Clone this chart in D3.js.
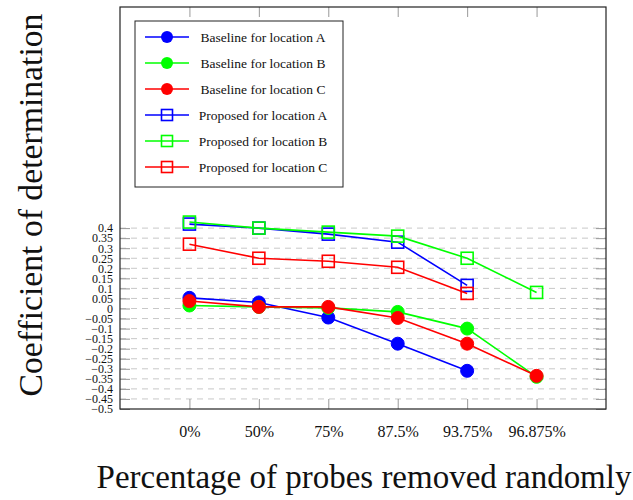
<!DOCTYPE html>
<html>
<head>
<meta charset="utf-8">
<script src="https://cdn.jsdelivr.net/npm/d3@7"></script>
<style>
  body { margin: 0; background: #fff; }
  svg { font-family: "Liberation Serif", "DejaVu Serif", serif; }
</style>
</head>
<body>
<div id="chart"></div>
<script>
// categories along x
var percents = ['0%', '50%', '75%', '87.5%', '93.75%', '96.875%']

// series values (null = no point)
var baselineA = [0.053, 0.03, -0.045, -0.175, -0.31, null]
var baselineB = [0.015, 0.008, 0.003, -0.017, -0.10, -0.34]
var baselineC = [0.037, 0.008, 0.008, -0.047, -0.175, -0.335]
var proposedA = [0.42, 0.40, 0.37, 0.33, 0.115, null]
var proposedB = [0.43, 0.40, 0.38, 0.36, 0.25, 0.08]
var proposedC = [0.32, 0.25, 0.235, 0.205, 0.075, null]

var yTicks = [0.4, 0.35, 0.3, 0.25, 0.2, 0.15, 0.1, 0.05, 0, -0.05, -0.1, -0.15, -0.2, -0.25, -0.3, -0.35, -0.4, -0.45, -0.5]

var seriesNames = ['Baseline for location A', 'Baseline for location B', 'Baseline for location C',
                   'Proposed for location A', 'Proposed for location B', 'Proposed for location C']

var series = [
  {name: seriesNames[0], values: baselineA, color: '#0000ff', marker: 'circle'},
  {name: seriesNames[1], values: baselineB, color: '#00ff00', marker: 'circle'},
  {name: seriesNames[2], values: baselineC, color: '#ff0000', marker: 'circle'},
  {name: seriesNames[3], values: proposedA, color: '#0000ff', marker: 'square'},
  {name: seriesNames[4], values: proposedB, color: '#00ff00', marker: 'square'},
  {name: seriesNames[5], values: proposedC, color: '#ff0000', marker: 'square'}
]

var width = 633, height = 500
var margin = {top: 7, right: 27, bottom: 91, left: 120}
var plotW = width - margin.left - margin.right
var plotH = height - margin.top - margin.bottom

var svg = d3.select('#chart').append('svg').attr('width', width).attr('height', height)

var x_scale = d3.scalePoint().domain(percents).range([margin.left, margin.left + plotW]).padding(1)
var y_scale = d3.scaleLinear().domain([-0.5, 1.5]).range([margin.top + plotH, margin.top])

// horizontal dashed grid
svg.append('g').selectAll('line').data(yTicks.filter(d => d > -0.5)).enter().append('line')
  .attr('x1', margin.left).attr('x2', margin.left + plotW)
  .attr('y1', d => y_scale(d)).attr('y2', d => y_scale(d))
  .attr('stroke', '#c8c8c8').attr('stroke-width', 1).attr('stroke-dasharray', '6,5')

// y axis ticks (left and right)
var fmt = d => d < 0 ? '\u2212' + String(-d) : String(d)
var yAxis = d3.axisLeft(y_scale).tickValues(yTicks).tickSize(-10).tickFormat(fmt).tickPadding(7)
var gy = svg.append('g').attr('transform', `translate(${margin.left},0)`).call(yAxis)
gy.select('.domain').remove()
gy.selectAll('.tick line').attr('stroke', '#999')
gy.selectAll('.tick text').attr('font-size', 12).attr('fill', '#111').attr('font-family', '"Liberation Serif", serif')

var gyr = svg.append('g').attr('transform', `translate(${margin.left + plotW},0)`)
  .call(d3.axisRight(y_scale).tickValues(yTicks).tickSize(-10).tickFormat(''))
gyr.select('.domain').remove()
gyr.selectAll('.tick line').attr('stroke', '#999')

// x axis
var xAxis = d3.axisBottom(x_scale).tickSize(-10).tickPadding(17)
var gx = svg.append('g').attr('transform', `translate(0,${margin.top + plotH})`).call(xAxis)
gx.select('.domain').remove()
gx.selectAll('.tick line').attr('stroke', '#999')
gx.selectAll('.tick text').attr('font-size', 16).attr('fill', '#111').attr('font-family', '"Liberation Serif", serif')

var gxt = svg.append('g').attr('transform', `translate(0,${margin.top})`)
  .call(d3.axisTop(x_scale).tickSize(-10).tickFormat(''))
gxt.select('.domain').remove()
gxt.selectAll('.tick line').attr('stroke', '#999')

// frame
svg.append('rect').attr('x', margin.left).attr('y', margin.top).attr('width', plotW).attr('height', plotH)
  .attr('fill', 'none').attr('stroke', '#222').attr('stroke-width', 1.2)

// lines and markers
var line = d3.line().defined(d => d.v !== null).x(d => x_scale(d.c)).y(d => y_scale(d.v))

function drawMarker(g, type, color) {
  if (type === 'circle') {
    g.append('circle').attr('r', 6.5).attr('fill', color).attr('stroke', color)
  } else {
    g.append('rect').attr('x', -6).attr('y', -6).attr('width', 12).attr('height', 12)
      .attr('fill', 'none').attr('stroke', color).attr('stroke-width', 1.6)
  }
}

series.forEach(function(s) {
  var pts = s.values.map((v, i) => ({c: percents[i], v: v}))
  svg.append('path').datum(pts).attr('d', line).attr('fill', 'none')
    .attr('stroke', s.color).attr('stroke-width', 1.6)
  pts.filter(d => d.v !== null).forEach(function(d) {
    var g = svg.append('g').attr('transform', `translate(${x_scale(d.c)},${y_scale(d.v)})`)
    drawMarker(g, s.marker, s.color)
  })
})

// legend
var legend = svg.append('g').attr('transform', 'translate(135,21)')
legend.append('rect').attr('width', 208).attr('height', 166).attr('fill', '#fff')
  .attr('stroke', '#222').attr('stroke-width', 1)
var items = legend.selectAll('.legend').data(series).enter().append('g')
  .attr('class', 'legend')
  .attr('transform', (d, i) => `translate(0,${16 + i * 26})`)
items.append('line').attr('x1', 10).attr('x2', 54).attr('stroke', d => d.color).attr('stroke-width', 1.6)
items.each(function(d) {
  var g = d3.select(this).append('g').attr('transform', 'translate(32,0)')
  if (d.marker === 'circle') {
    g.append('circle').attr('r', 6).attr('fill', d.color)
  } else {
    g.append('rect').attr('x', -5.5).attr('y', -5.5).attr('width', 11).attr('height', 11)
      .attr('fill', 'none').attr('stroke', d.color).attr('stroke-width', 1.6)
  }
})
items.append('text').attr('x', 128).attr('dy', '0.35em').attr('text-anchor', 'middle')
  .attr('font-size', 13.5).attr('fill', '#111').text(d => d.name)

// axis titles
var xt = svg.append('text').attr('x', 364).attr('y', 488).attr('text-anchor', 'middle')
  .attr('font-size', 31).attr('fill', '#111').text('Percentage of probes removed randomly')
var yt = svg.append('text').attr('transform', 'translate(42,205) rotate(-90)').attr('text-anchor', 'middle')
  .attr('font-size', 31).attr('fill', '#111').text('Coefficient of determination')

// fit titles to the reference widths
function fitWidth(sel, target) {
  var w = sel.node().getComputedTextLength()
  var fs = +sel.attr('font-size')
  sel.attr('font-size', fs * target / w)
}
fitWidth(xt, 535)
fitWidth(yt, 383)
</script>
</body>
</html>
